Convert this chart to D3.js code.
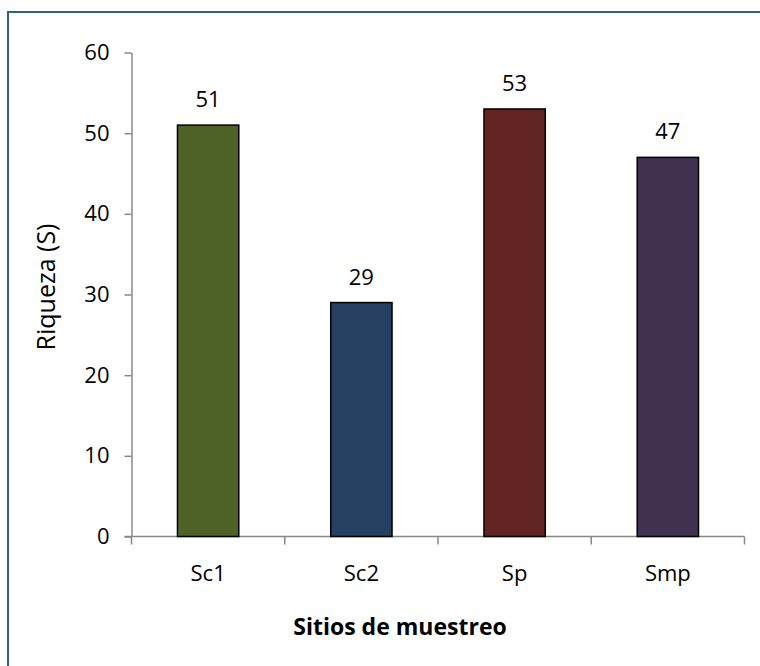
<!DOCTYPE html>
<html>
<head>
<meta charset="utf-8">
<script src="https://cdn.jsdelivr.net/npm/d3@7"></script>
<style>
  html, body { margin: 0; padding: 0; background: #fff; }
  svg { display: block; font-family: "Open Sans", "DejaVu Sans", sans-serif; }
</style>
</head>
<body>
<svg id="chart" width="760" height="666"></svg>
<script>
// Species richness per sampling site
const sites = ["Sc1", "Sc2", "Sp", "Smp"];
const richness = [51, 29, 53, 47];
const barColors = ["#4f6228", "#254061", "#632523", "#403151"];
const yTicks = [0, 10, 20, 30, 40, 50, 60];

const svg = d3.select("#chart");

// Outer chart frame (right and bottom edges fall outside the canvas)
svg.append("rect")
  .attr("x", 8).attr("y", 12)
  .attr("width", 800).attr("height", 700)
  .attr("fill", "#fff")
  .attr("stroke", "#2e6778")
  .attr("stroke-width", 2);

const plot = { left: 131.5, right: 744.5, top: 52.5, bottom: 536.5 };

const x = d3.scaleBand()
  .domain(sites)
  .range([plot.left, plot.right])
  .paddingInner(0).paddingOuter(0);

const y = d3.scaleLinear()
  .domain([0, 60])
  .range([plot.bottom, plot.top]);

const barW = x.bandwidth() * 0.4;
const axisColor = "#888888";
const fontSize = 22;

// Y axis
const yAxis = svg.append("g")
  .attr("transform", `translate(${plot.left},0)`)
  .call(d3.axisLeft(y).tickValues(yTicks).tickSize(7).tickPadding(15).tickSizeOuter(0));
yAxis.select(".domain").attr("stroke", axisColor).attr("stroke-width", 1.5);
yAxis.selectAll(".tick line").attr("stroke", axisColor).attr("stroke-width", 1.5);
yAxis.selectAll(".tick text")
  .attr("font-size", fontSize).attr("fill", "#000")
  .attr("font-family", "'Open Sans', sans-serif");

// X axis with tick marks on band boundaries
const xAxisG = svg.append("g");
xAxisG.append("line")
  .attr("x1", plot.left - 7).attr("x2", plot.right)
  .attr("y1", plot.bottom).attr("y2", plot.bottom)
  .attr("stroke", axisColor).attr("stroke-width", 1.5);
const boundaries = sites.map(s => x(s)).concat([x(sites[sites.length - 1]) + x.bandwidth()]);
xAxisG.selectAll("line.tk")
  .data(boundaries)
  .join("line")
  .attr("class", "tk")
  .attr("x1", d => d).attr("x2", d => d)
  .attr("y1", plot.bottom).attr("y2", plot.bottom + 8)
  .attr("stroke", axisColor).attr("stroke-width", 1.5);
xAxisG.selectAll("text.cat")
  .data(sites)
  .join("text")
  .attr("class", "cat")
  .attr("x", d => x(d) + x.bandwidth() / 2)
  .attr("y", 581)
  .attr("text-anchor", "middle")
  .attr("font-size", fontSize)
  .attr("fill", "#000")
  .text(d => d);

// Bars
const data = sites.map((s, i) => ({ site: s, value: richness[i], color: barColors[i] }));
svg.selectAll("rect.bar")
  .data(data)
  .join("rect")
  .attr("class", "bar")
  .attr("x", d => x(d.site) + (x.bandwidth() - barW) / 2)
  .attr("y", d => y(d.value))
  .attr("width", barW)
  .attr("height", d => y(0) - y(d.value))
  .attr("fill", d => d.color)
  .attr("stroke", "#000")
  .attr("stroke-width", 1.5);

// Value labels
svg.selectAll("text.val")
  .data(data)
  .join("text")
  .attr("class", "val")
  .attr("x", d => x(d.site) + x.bandwidth() / 2)
  .attr("y", d => y(d.value) - 18)
  .attr("text-anchor", "middle")
  .attr("font-size", fontSize)
  .attr("fill", "#000")
  .text(d => d.value);

// Axis titles
svg.append("text")
  .attr("transform", "translate(55,287) rotate(-90)")
  .attr("text-anchor", "middle")
  .attr("font-size", 25)
  .attr("fill", "#000")
  .text("Riqueza (S)");

svg.append("text")
  .attr("x", 400)
  .attr("y", 635)
  .attr("text-anchor", "middle")
  .attr("font-size", 23)
  .attr("font-weight", "bold")
  .attr("fill", "#000")
  .text("Sitios de muestreo");
</script>
</body>
</html>
